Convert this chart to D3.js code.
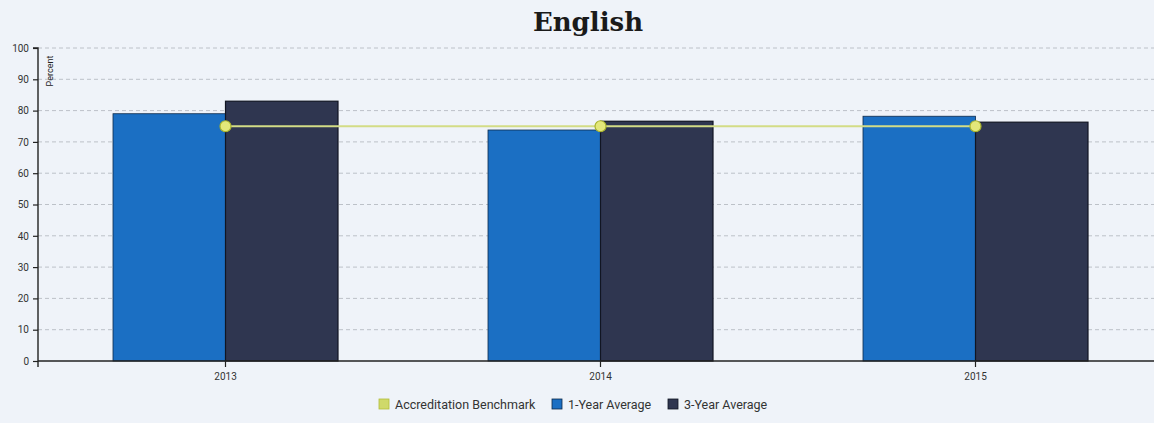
<!DOCTYPE html>
<html>
<head>
<meta charset="utf-8">
<script src="https://cdn.jsdelivr.net/npm/d3@7"></script>
<style>
  html, body { margin: 0; padding: 0; background: #eff3f9; }
  svg { display: block; font-family: Roboto, "Liberation Sans", sans-serif; }
</style>
</head>
<body>
<svg id="chart" width="1154" height="423"></svg>
<script>
// Chart data
const years = ["2013", "2014", "2015"];
const oneYearAvg = [79, 73.8, 78.2];
const threeYearAvg = [83, 76.6, 76.3];
const benchmark = [75, 75, 75];
const yTicks = [0, 10, 20, 30, 40, 50, 60, 70, 80, 90, 100];
const seriesNames = ["Accreditation Benchmark", "1-Year Average", "3-Year Average"];

const colors = {
  bench: "#cfd96a",
  one: "#1b6fc3",
  three: "#2f3650"
};

const svg = d3.select("#chart");
const W = 1154, H = 423;

svg.append("rect").attr("width", W).attr("height", H).attr("fill", "#eff3f9");

const left = 38, plotTop = 48, plotBottom = 361;

const x0 = d3.scaleBand().domain(years).range([left, left + 1125])
  .paddingInner(0.4).paddingOuter(0.2);
const x1 = d3.scaleBand().domain(["one", "three"]).range([0, x0.bandwidth()]);
const y = d3.scaleLinear().domain([0, 100]).range([plotBottom, plotTop]);
// category centres
const xc = d => x0(d) + x0.bandwidth() / 2;

// title
svg.append("text")
  .attr("x", 588).attr("y", 31)
  .attr("text-anchor", "middle")
  .attr("font-family", "'DejaVu Serif', 'Liberation Serif', serif")
  .attr("font-weight", "bold")
  .attr("font-size", 26)
  .attr("fill", "#1a1a1a")
  .text("English");

// gridlines
svg.append("g")
  .selectAll("line")
  .data(yTicks.filter(t => t > 0))
  .join("line")
  .attr("x1", left).attr("x2", W)
  .attr("y1", d => y(d)).attr("y2", d => y(d))
  .attr("stroke", "#bcc1c8")
  .attr("stroke-width", 1)
  .attr("stroke-dasharray", "4,3");

// bars
const groups = svg.append("g")
  .selectAll("g")
  .data(years)
  .join("g")
  .attr("transform", d => `translate(${x0(d)},0)`);

groups.append("rect")
  .attr("x", x1("one"))
  .attr("y", (d, i) => y(oneYearAvg[i]))
  .attr("width", x1.bandwidth())
  .attr("height", (d, i) => y(0) - y(oneYearAvg[i]))
  .attr("fill", colors.one)
  .attr("stroke", "#0d2a4a")
  .attr("stroke-width", 0.8);

groups.append("rect")
  .attr("x", x1("three"))
  .attr("y", (d, i) => y(threeYearAvg[i]))
  .attr("width", x1.bandwidth())
  .attr("height", (d, i) => y(0) - y(threeYearAvg[i]))
  .attr("fill", colors.three)
  .attr("stroke", "#111522")
  .attr("stroke-width", 1.2);

// benchmark line through the yearly points
const benchLine = d3.line().x(d => d[0]).y(d => y(d[1]));
const benchPts = years.map((yr, i) => [xc(yr), benchmark[i]]);
svg.append("path")
  .datum(benchPts)
  .attr("d", benchLine)
  .attr("fill", "none")
  .attr("stroke", "#d3dc86")
  .attr("stroke-width", 2);

svg.append("g")
  .selectAll("circle")
  .data(benchPts)
  .join("circle")
  .attr("cx", d => d[0])
  .attr("cy", d => y(d[1]))
  .attr("r", 5.5)
  .attr("fill", "#e3e77a")
  .attr("stroke", "#a9b32c")
  .attr("stroke-width", 1.2);

// y axis
const yAxis = svg.append("g")
  .attr("transform", `translate(${left},0)`)
  .call(d3.axisLeft(y).tickValues(yTicks).tickSize(5).tickPadding(4));
yAxis.select(".domain").attr("stroke", "#222").attr("stroke-width", 1.4)
  .attr("d", `M-5,${plotTop}H0V${plotBottom + 6}`);
yAxis.selectAll(".tick line").attr("stroke", "#222").attr("stroke-width", 1.2);
yAxis.selectAll(".tick text").attr("font-size", 10).attr("fill", "#333")
  .attr("font-family", "Roboto, 'Liberation Sans', sans-serif");

svg.append("text")
  .attr("transform", `translate(${left + 15},${plotTop + 23}) rotate(-90)`)
  .attr("text-anchor", "middle")
  .attr("font-size", 9)
  .attr("fill", "#222")
  .text("Percent");

// x axis
const xAxis = svg.append("g")
  .attr("transform", `translate(0,${plotBottom})`)
  .call(d3.axisBottom(x0).tickSize(6).tickPadding(6).tickSizeOuter(0));
xAxis.select(".domain").attr("stroke", "#222").attr("stroke-width", 1.4)
  .attr("d", `M${left},0H${W}`);
xAxis.selectAll(".tick line").attr("stroke", "#222").attr("stroke-width", 1.2);
xAxis.selectAll(".tick text").attr("font-size", 10).attr("fill", "#333")
  .attr("font-family", "Roboto, 'Liberation Sans', sans-serif");

// legend
const legendItems = [
  { name: seriesNames[0], color: colors.bench, stroke: "#b3bd3a", x: 379 },
  { name: seriesNames[1], color: colors.one, stroke: "#0d2a4a", x: 552 },
  { name: seriesNames[2], color: colors.three, stroke: "#111522", x: 668 }
];
const lg = svg.append("g")
  .selectAll("g")
  .data(legendItems)
  .join("g")
  .attr("transform", d => `translate(${d.x},399)`);
lg.append("rect")
  .attr("width", 10).attr("height", 10)
  .attr("fill", d => d.color)
  .attr("stroke", d => d.stroke)
  .attr("stroke-width", 0.8);
lg.append("text")
  .attr("x", 16).attr("y", 10)
  .attr("font-size", 12.5)
  .attr("fill", "#333")
  .text(d => d.name);
</script>
</body>
</html>
